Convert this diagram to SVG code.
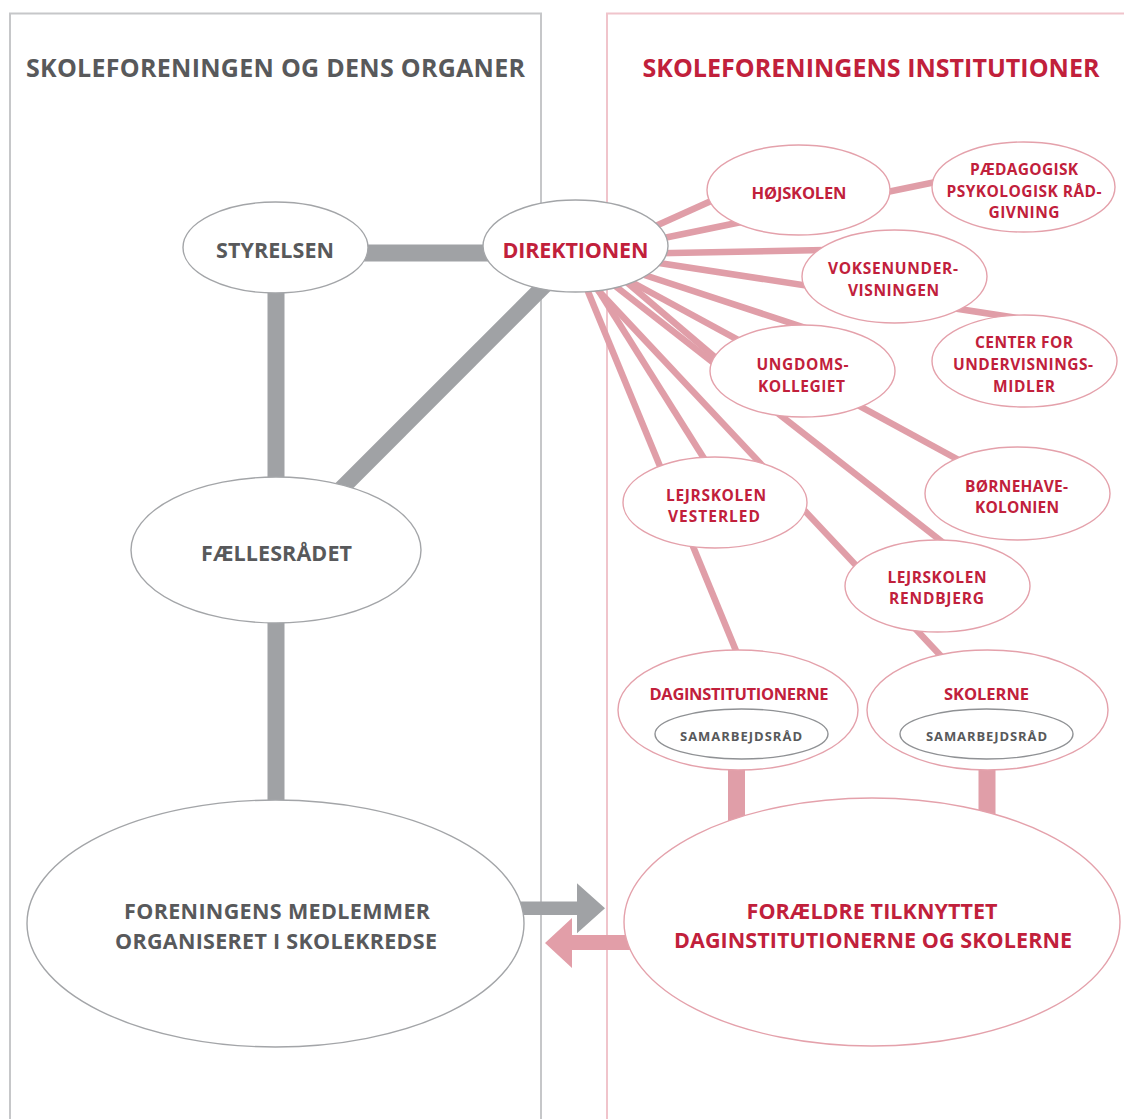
<svg xmlns="http://www.w3.org/2000/svg" width="1124" height="1119" viewBox="0 0 1124 1119">
<style>
  text { font-family: "Open Sans", "Liberation Sans", sans-serif; font-weight: 700; text-anchor: middle; }
  .hdr { font-size: 25px; }
  .g { fill: #58595b; }
  .r { fill: #c1203b; }
  .big { font-size: 21.5px; }
  .sm { font-size: 16.5px; }
  .ml { font-size: 15.5px; }
  .xs { font-size: 13px; }
  .eg { fill: #ffffff; stroke: #a3a5a8; stroke-width: 1.4; }
  .ep { fill: #ffffff; stroke: #e4a1ab; stroke-width: 1.4; }
  .ei { fill: #ffffff; stroke: #8f9194; stroke-width: 1.4; }
  .cg { stroke: #a0a2a5; fill: none; }
  .cp { stroke: #e09ea8; stroke-width: 6.5; fill: none; }
  .cpt { stroke: #e09ea8; stroke-width: 17; fill: none; }
</style>

<g id="panels">
  <path d="M10,1119 V13.5 H541 V1119" fill="none" stroke="#c6c7c9" stroke-width="2"/>
  <path d="M607,1119 V13.5 H1124" fill="none" stroke="#f0c4cb" stroke-width="2"/>
  <text class="hdr g" x="275.5" y="76.5" textLength="499" lengthAdjust="spacing">SKOLEFORENINGEN OG DENS ORGANER</text>
  <text class="hdr r" x="871" y="76.5" textLength="457" lengthAdjust="spacing">SKOLEFORENINGENS INSTITUTIONER</text>
</g>

<g id="connectors">
  <line class="cg" x1="330" y1="253" x2="520" y2="253" stroke-width="17"/>
  <line class="cg" x1="276" y1="280" x2="276" y2="500" stroke-width="17"/>
  <line class="cg" x1="560" y1="270" x2="330" y2="500" stroke-width="16"/>
  <line class="cg" x1="276" y1="600" x2="276" y2="830" stroke-width="17"/>

  <line class="cp" x1="620" y1="242" x2="740" y2="188"/>
  <line class="cp" x1="620" y1="247" x2="960" y2="177"/>
  <line class="cp" x1="620" y1="254" x2="850" y2="249.5"/>
  <line class="cp" x1="620" y1="257" x2="1030" y2="320"/>
  <line class="cp" x1="620" y1="267" x2="815" y2="331"/>
  <line class="cp" x1="615" y1="273" x2="990" y2="477"/>
  <line class="cp" x1="610" y1="268" x2="730" y2="370"/>
  <line class="cp" x1="605" y1="278" x2="950" y2="548"/>
  <line class="cp" x1="595" y1="287" x2="955" y2="671"/>
  <line class="cp" x1="590" y1="277" x2="710" y2="468"/>
  <line class="cp" x1="582" y1="277" x2="746" y2="675"/>

  <line class="cpt" x1="736.5" y1="755" x2="736.5" y2="840"/>
  <line class="cpt" x1="987" y1="755" x2="987" y2="840" stroke-width="18"/>

  <polygon points="515,901.5 577,901.5 577,883.3 605,908.3 577,933.3 577,915 515,915" fill="#a0a2a5"/>
  <polygon points="640,935 572,935 572,918 545,943 572,968 572,950 640,950" fill="#e29ea8"/>
</g>

<g id="styrelsen">
  <ellipse class="eg" cx="275.5" cy="247.5" rx="92.5" ry="45.5"/>
  <text class="big g" x="275" y="258" textLength="118" lengthAdjust="spacing">STYRELSEN</text>
</g>
<g id="direktionen">
  <ellipse class="eg" cx="575.5" cy="246" rx="92.5" ry="46"/>
  <text class="big r" x="575.5" y="257.5" textLength="146" lengthAdjust="spacing">DIREKTIONEN</text>
</g>
<g id="faellesraadet">
  <ellipse class="eg" cx="276" cy="550" rx="145" ry="73"/>
  <text class="big g" x="276.5" y="561" textLength="151" lengthAdjust="spacing">FÆLLESRÅDET</text>
</g>
<g id="medlemmer">
  <ellipse class="eg" cx="275.5" cy="923.5" rx="248.5" ry="123.5"/>
  <text class="big g" x="277" y="919" textLength="306" lengthAdjust="spacing">FORENINGENS MEDLEMMER</text>
  <text class="big g" x="276" y="948.5" textLength="322" lengthAdjust="spacing">ORGANISERET I SKOLEKREDSE</text>
</g>

<g id="hoejskolen">
  <ellipse class="ep" cx="798.5" cy="190" rx="91.5" ry="45"/>
  <text class="sm r" x="799" y="199" textLength="95" lengthAdjust="spacing">HØJSKOLEN</text>
</g>
<g id="ppr">
  <ellipse class="ep" cx="1023.5" cy="187" rx="91.5" ry="45"/>
  <text class="ml r" x="1024" y="174.5" textLength="108" lengthAdjust="spacing">PÆDAGOGISK</text>
  <text class="ml r" x="1024" y="196.5" textLength="155" lengthAdjust="spacing">PSYKOLOGISK RÅD-</text>
  <text class="ml r" x="1024" y="218" textLength="71" lengthAdjust="spacing">GIVNING</text>
</g>
<g id="voksenundervisningen">
  <ellipse class="ep" cx="894.5" cy="276.5" rx="92.5" ry="46.5"/>
  <text class="ml r" x="893" y="274" textLength="130" lengthAdjust="spacing">VOKSENUNDER-</text>
  <text class="ml r" x="893.5" y="295.5" textLength="91" lengthAdjust="spacing">VISNINGEN</text>
</g>
<g id="center">
  <ellipse class="ep" cx="1024.5" cy="361" rx="92.5" ry="46"/>
  <text class="ml r" x="1024" y="347.5" textLength="98" lengthAdjust="spacing">CENTER FOR</text>
  <text class="ml r" x="1023" y="369.5" textLength="140" lengthAdjust="spacing">UNDERVISNINGS-</text>
  <text class="ml r" x="1024" y="391.5" textLength="62" lengthAdjust="spacing">MIDLER</text>
</g>
<g id="ungdomskollegiet">
  <ellipse class="ep" cx="802.5" cy="371" rx="92.5" ry="46"/>
  <text class="ml r" x="802.5" y="369.5" textLength="92" lengthAdjust="spacing">UNGDOMS-</text>
  <text class="ml r" x="801.5" y="391.5" textLength="87" lengthAdjust="spacing">KOLLEGIET</text>
</g>
<g id="vesterled">
  <ellipse class="ep" cx="715" cy="502.5" rx="92" ry="45.5"/>
  <text class="ml r" x="716" y="501" textLength="100" lengthAdjust="spacing">LEJRSKOLEN</text>
  <text class="ml r" x="714" y="522" textLength="92" lengthAdjust="spacing">VESTERLED</text>
</g>
<g id="boernehavekolonien">
  <ellipse class="ep" cx="1017.5" cy="493.5" rx="92.5" ry="46.5"/>
  <text class="ml r" x="1016.5" y="491.5" textLength="103" lengthAdjust="spacing">BØRNEHAVE-</text>
  <text class="ml r" x="1017" y="513" textLength="84" lengthAdjust="spacing">KOLONIEN</text>
</g>
<g id="rendbjerg">
  <ellipse class="ep" cx="937.5" cy="586" rx="92.5" ry="46"/>
  <text class="ml r" x="937" y="582.5" textLength="99" lengthAdjust="spacing">LEJRSKOLEN</text>
  <text class="ml r" x="936.5" y="604" textLength="95" lengthAdjust="spacing">RENDBJERG</text>
</g>
<g id="daginstitutionerne">
  <ellipse class="ep" cx="738" cy="710" rx="120" ry="60"/>
  <text class="sm r" x="739" y="700" textLength="179" lengthAdjust="spacing">DAGINSTITUTIONERNE</text>
  <ellipse class="ei" cx="741.5" cy="734" rx="86.5" ry="25"/>
  <text class="xs g" x="741" y="740.5" textLength="122" lengthAdjust="spacing">SAMARBEJDSRÅD</text>
</g>
<g id="skolerne">
  <ellipse class="ep" cx="987.5" cy="710" rx="120.5" ry="60"/>
  <text class="sm r" x="986.5" y="700" textLength="85" lengthAdjust="spacing">SKOLERNE</text>
  <ellipse class="ei" cx="986.5" cy="734" rx="86.5" ry="25"/>
  <text class="xs g" x="986.5" y="740.5" textLength="121" lengthAdjust="spacing">SAMARBEJDSRÅD</text>
</g>
<g id="foraeldre">
  <ellipse class="ep" cx="872" cy="922" rx="248" ry="124"/>
  <text class="big r" x="872" y="919" textLength="251" lengthAdjust="spacing">FORÆLDRE TILKNYTTET</text>
  <text class="big r" x="873" y="947.5" textLength="398" lengthAdjust="spacing">DAGINSTITUTIONERNE OG SKOLERNE</text>
</g>
</svg>
